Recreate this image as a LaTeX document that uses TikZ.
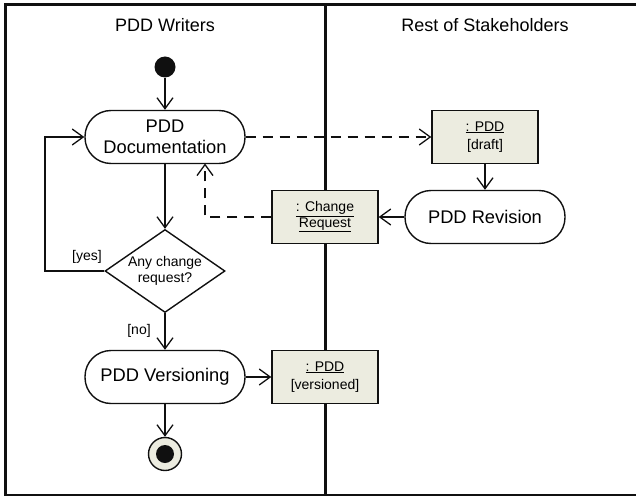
\documentclass[tikz,border=0pt]{standalone}
\usepackage{fontspec}
\setmainfont{Liberation Sans}
\usetikzlibrary{arrows.meta,shapes.geometric}
\definecolor{objfill}{HTML}{ECECE0}
\definecolor{ink}{HTML}{101010}

\begin{document}
\begin{tikzpicture}[x=1pt,y=-1pt,
  lane/.style={draw=ink, line width=2.6pt},
  header/.style={font=\fontsize{18}{21}\selectfont},
  action/.style={draw=ink, line width=1.4pt, rounded corners=26pt,
    minimum width=160pt, minimum height=53pt, inner sep=0pt, align=center,
    font=\fontsize{18.3}{22}\selectfont},
  objnode/.style={draw=ink, fill=objfill, line width=1.4pt,
    minimum width=106pt, minimum height=53pt, inner sep=0pt, align=center,
    font=\fontsize{14}{17.5}\selectfont},
  decision/.style={draw=ink, diamond, line width=1.4pt, aspect=1.45,
    minimum width=120pt, minimum height=83pt, inner sep=0pt},
  guard/.style={font=\fontsize{14}{16}\selectfont, inner sep=0pt},
  flow/.style={-{Straight Barb[length=11pt,width=16pt,line width=1.3pt]}, line width=1.3pt, draw=ink},
  dep/.style={flow, dash pattern=on 10pt off 7pt}
]
\useasboundingbox (0,0) rectangle (636,497);

% swimlane frame
\draw[lane] (5.5,495) -- (5.5,4.5) -- (640,4.5);
\draw[lane] (4.2,495) -- (640,495);
\draw[lane] (325.5,4.5) -- (325.5,495);

\node[header] (hw) at (165,25) {PDD Writers};
\node[header] (hr) at (485,25) {Rest of Stakeholders};

% nodes
\node[circle, fill=ink, minimum size=21pt, inner sep=0pt] (start) at (165,67) {};
\node[action] (doc) at (165,137) {PDD\\[-1pt]Documentation};
\node[decision] (dec) at (165,271) {};
\node[font=\fontsize{14}{16.5}\selectfont, align=center] (dectext) at (165,271) {Any change\\request?};
\node[action] (ver) at (165,377) {PDD Versioning};
\node[circle, draw=ink, fill=objfill, line width=1.4pt, minimum size=33pt, inner sep=0pt] (endo) at (165,454) {};
\node[circle, fill=ink, minimum size=18pt, inner sep=0pt] (endi) at (165,454) {};

\node[objnode] (draft) at (485,137) {\underline{: PDD}\\[1pt]{[draft]}};
\node[action] (rev) at (485,217) {PDD Revision};
\node[objnode, font=\fontsize{14}{15.5}\selectfont] (cr) at (325,217) {\underline{: Change}\\\underline{Request}};
\node[objnode] (vobj) at (325,377) {\underline{: PDD}\\[1pt]{[versioned]}};

\node[guard] (yes) at (87,257) {[yes]};
\node[guard] (no) at (139,331) {[no]};

% control flow
\draw[flow] (start) -- (doc);
\draw[flow] (doc) -- (dec);
\draw[flow] (dec.west) -- (45,271) -- (45,137) -- (doc.west);
\draw[flow] (dec) -- (ver);
\draw[flow] (ver) -- (endo);

% object flow
\draw[dep] (doc.east) -- (draft.west);
\draw[flow] (draft) -- (rev);
\draw[flow] (rev.west) -- (cr.east);
\draw[dep] (cr.west) -- (205,217) -- (205,163.5);
\draw[flow] (ver.east) -- (vobj.west);
\end{tikzpicture}
\end{document}
